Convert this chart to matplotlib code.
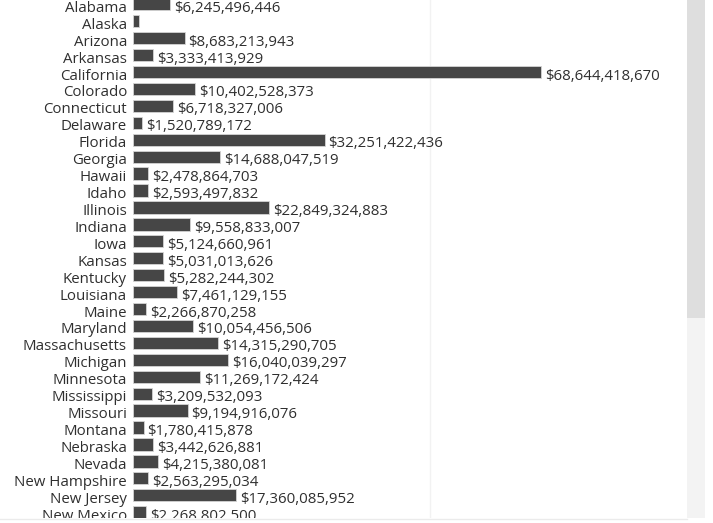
import numpy as np
import matplotlib
matplotlib.use('Agg')
from matplotlib import pyplot as plt
from matplotlib import transforms

states = ['Alabama', 'Alaska', 'Arizona', 'Arkansas', 'California', 'Colorado',
          'Connecticut', 'Delaware', 'Florida', 'Georgia', 'Hawaii', 'Idaho',
          'Illinois', 'Indiana', 'Iowa', 'Kansas', 'Kentucky', 'Louisiana',
          'Maine', 'Maryland', 'Massachusetts', 'Michigan', 'Minnesota',
          'Mississippi', 'Missouri', 'Montana', 'Nebraska', 'Nevada',
          'New Hampshire', 'New Jersey', 'New Mexico']
values = [6245496446, 1050000000, 8683213943, 3333413929, 68644418670, 10402528373,
          6718327006, 1520789172, 32251422436, 14688047519, 2478864703, 2593497832,
          22849324883, 9558833007, 5124660961, 5031013626, 5282244302, 7461129155,
          2266870258, 10054456506, 14315290705, 16040039297, 11269172424,
          3209532093, 9194916076, 1780415878, 3442626881, 4215380081,
          2563295034, 17360085952, 2268802500]
# Alaska's label is hidden in the original view
show_label = [s != 'Alaska' for s in states]

W, H = 713, 523
fig = plt.figure(figsize=(W / 100, H / 100), dpi=100)
plt.rcParams['font.family'] = ['Open Sans', 'DejaVu Sans']

# axes covers the view area left of the scrollbar, above the bottom rule
ax = fig.add_axes([0, 1 - 518 / H, 687 / W, 518 / H])
px_per = 5.94 / 1e9
x0 = 133
ax.set_xlim(-x0 / px_per, (687 - x0) / px_per)
pitch = 16.93
ax.set_ylim((518 - 4.3) / pitch, -4.3 / pitch)
ax.axis('off')

ax.axvline(50e9, color='#f2f2f2', lw=1, zorder=0)

y = np.arange(len(states))
ax.barh(y, values, height=12.3 / pitch, color='#464646', edgecolor='#d4d4d4',
        linewidth=0.6, zorder=2)

fs = 10.8
name_tr = transforms.offset_copy(ax.transData, fig=fig, x=-6, y=-4, units='dots')
val_tr = transforms.offset_copy(ax.transData, fig=fig, x=4, y=-4, units='dots')
for i, (s, v) in enumerate(zip(states, values)):
    ax.text(0, i, s, transform=name_tr, ha='right', va='center', fontsize=fs,
            color='#2f2f2f', clip_on=True)
    if show_label[i]:
        ax.text(v, i, '${:,}'.format(v), transform=val_tr, ha='left', va='center',
                fontsize=fs, color='#2f2f2f', clip_on=True)

# bottom rule and scrollbar
fig.add_artist(plt.Line2D([0, 687 / W], [1 - 518.5 / H] * 2, color='#ebebeb', lw=1))
fig.add_artist(plt.Rectangle((687 / W, 1 - 518 / H), 18 / W, 518 / H,
                             color='#f3f3f3', lw=0))
fig.add_artist(plt.Rectangle((687 / W, 1 - 318 / H), 18 / W, 318 / H,
                             color='#dedede', lw=0))

fig.savefig('out.png', dpi=100)
